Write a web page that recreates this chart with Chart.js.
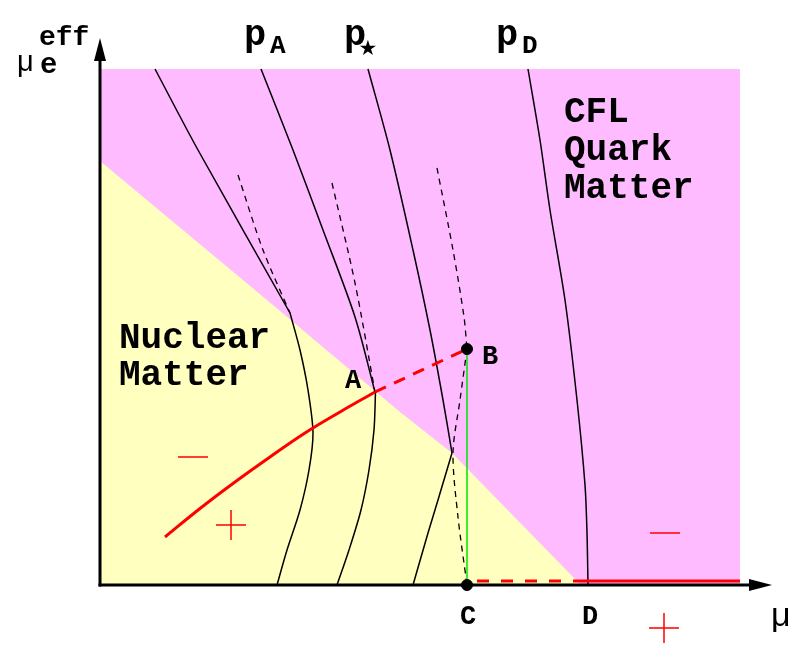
<!DOCTYPE html>
<html><head><meta charset="utf-8">
<script src="https://cdn.jsdelivr.net/npm/chart.js@4.4.0/dist/chart.umd.min.js"></script>
<style>html,body{margin:0;padding:0;background:#fff}#wrap{width:810px;height:664px}</style>
</head><body><div id="wrap"><canvas id="c"></canvas></div>
<script>
// ---- data: (mu, mu_e^eff) in schematic units ----
const cflRegion = [[0.01,5.16],[6.40,5.16]];
const nuclearRegion = [[0,4.24],[1.67,2.85],[3.00,1.73],[3.52,1.32],[4.78,0.03],[4.80,0]];
const pA_quark = [[0.55,5.16],[0.98,4.35],[1.90,2.72]];
const pA_nuclear = [[1.90,2.72],[2.00,2.35],[2.08,1.95],[2.13,1.52],[2.09,1.15],[2.00,0.75],[1.87,0.35],[1.77,0]];
const pA_dashed = [[1.38,4.10],[1.63,3.35],[1.90,2.72]];
const pStar_quark = [[1.61,5.16],[1.93,4.35],[2.23,3.55],[2.55,2.68],[2.75,1.93]];
const pStar_nuclear = [[2.755,1.93],[2.74,1.55],[2.69,1.15],[2.61,0.75],[2.49,0.35],[2.37,0]];
const pStar_dashed = [[2.32,4.02],[2.55,3.02],[2.75,1.93]];
const pB_quark = [[2.68,5.16],[2.90,4.35],[3.13,3.35],[3.30,2.55],[3.43,1.85],[3.52,1.32]];
const pB_nuclear = [[3.52,1.32],[3.38,0.85],[3.28,0.52],[3.13,0]];
const pB_dashedUpper = [[3.37,4.17],[3.53,3.35],[3.64,2.68],[3.67,2.36]];
const pB_dashedLower = [[3.67,2.36],[3.60,1.85],[3.53,1.32],[3.58,0.68],[3.67,0]];
const pD_curve = [[4.28,5.16],[4.40,4.45],[4.50,3.75],[4.65,2.85],[4.77,1.85],[4.85,1.00],[4.87,0.52],[4.88,0]];
const redSolidNuclear = [[0.65,0.48],[1.00,0.765],[1.35,1.03],[1.70,1.28],[2.05,1.52],[2.40,1.73],[2.75,1.93]];
const redDashedAB = [[2.75,1.93],[3.67,2.36]];
const redDashedCD = [[3.77,0.04],[4.78,0.04]];
const redSolidCFL = [[4.78,0.04],[6.40,0.04]];
const greenBC = [[3.67,2.36],[3.67,0]];
const pointsBC = [[3.67,2.36],[3.67,0]];
const minusSigns = [[0.93,1.28],[5.65,0.52]];
const plusSigns = [[1.31,0.60],[5.64,-0.43]];
const axisMuEnd = 6.72;
const axisMuEEnd = 5.47;

// ---- texts ----
const regionTexts = ['Nuclear','Matter','CFL','Quark','Matter'];
const regionTextPos = [[0.19,2.37],[0.19,2.00],[4.64,4.63],[4.64,4.25],[4.64,3.87]];
const pointTexts = ['A','B','C','D'];
const pointTextPos = [[2.45,1.97],[3.82,2.21],[3.60,-0.39],[4.82,-0.39]];
const pressureSubs = ['A','*','D'];
const pressurePos = [[1.44,5.40],[2.44,5.40],[3.96,5.40]];

const P = a => a.map(([x,y]) => ({x,y}));
const line = (data, color, width, extra={}) => Object.assign({
  data: P(data), showLine:true, borderColor:color, borderWidth:width,
  pointRadius:0, fill:false, tension:0.3, clip:false
}, extra);

const BLACK='#000', RED='#ff0000';
const dash = {borderDash:[6,5]};

const datasets = [
  {data:P(pointsBC), showLine:false, pointRadius:5.5, pointBackgroundColor:'#000', pointBorderColor:'#000'},
  {data:P(minusSigns), showLine:false, pointStyle:'line', pointRadius:15, pointBorderColor:RED, pointBorderWidth:1.5},
  {data:P(plusSigns), showLine:false, pointStyle:'cross', pointRadius:15, pointBorderColor:RED, pointBorderWidth:1.5},
  line(greenBC, '#00e600', 1.5, {tension:0}),
  line(redSolidNuclear, RED, 3, {tension:0.4}),
  line(redDashedAB, RED, 3, {borderDash:[12,9], tension:0}),
  line(redDashedCD, RED, 3, {borderDash:[12,12], tension:0}),
  line(redSolidCFL, RED, 3, {tension:0}),
  line(pA_quark, BLACK, 1.5),
  line(pA_nuclear, BLACK, 1.5),
  line(pA_dashed, BLACK, 1.3, dash),
  line(pStar_quark, BLACK, 1.5),
  line(pStar_nuclear, BLACK, 1.5),
  line(pStar_dashed, BLACK, 1.3, dash),
  line(pB_quark, BLACK, 1.5),
  line(pB_nuclear, BLACK, 1.5, {tension:0.15}),
  line(pB_dashedUpper, BLACK, 1.3, dash),
  line(pB_dashedLower, BLACK, 1.3, dash),
  line(pD_curve, BLACK, 1.5),
  line(nuclearRegion, 'rgba(0,0,0,0)', 0, {fill:'origin', backgroundColor:'#ffffc0', tension:0}),
  line(cflRegion, 'rgba(0,0,0,0)', 0, {fill:'origin', backgroundColor:'#ffbbff', tension:0})
];

const MONO = '"Courier New","Liberation Mono",monospace';
const SANS = '"Liberation Sans",Arial,sans-serif';

const overlay = {
  id:'overlay',
  afterDatasetsDraw(chart){
    const {ctx, scales:{x, y}} = chart;
    const X = v => x.getPixelForValue(v), Y = v => y.getPixelForValue(v);
    ctx.save();
    ctx.strokeStyle = '#000'; ctx.fillStyle = '#000'; ctx.lineWidth = 3;
    const ox = X(0), oy = Y(0), tx = X(axisMuEnd), ty = Y(axisMuEEnd);
    ctx.beginPath(); ctx.moveTo(ox-1.5, oy); ctx.lineTo(tx-18, oy); ctx.stroke();
    ctx.beginPath(); ctx.moveTo(ox, oy+1.5); ctx.lineTo(ox, ty+18); ctx.stroke();
    ctx.beginPath(); ctx.moveTo(tx, oy); ctx.lineTo(tx-23, oy-6); ctx.lineTo(tx-23, oy+6); ctx.closePath(); ctx.fill();
    ctx.beginPath(); ctx.moveTo(ox, ty); ctx.lineTo(ox-6, ty+23); ctx.lineTo(ox+6, ty+23); ctx.closePath(); ctx.fill();

    ctx.textBaseline = 'alphabetic'; ctx.textAlign = 'left';
    ctx.font = 'bold 36px ' + MONO;
    regionTexts.forEach((t,i) => ctx.fillText(t, X(regionTextPos[i][0]), Y(regionTextPos[i][1])));
    ctx.font = 'bold 27px ' + MONO;
    pointTexts.forEach((t,i) => ctx.fillText(t, X(pointTextPos[i][0]), Y(pointTextPos[i][1])));
    pressurePos.forEach(([px,py],i) => {
      ctx.font = 'bold 37px ' + MONO;
      const bx = X(px), by = Y(py);
      ctx.fillText('p', bx, by);
      if (pressureSubs[i] === '*') {
        ctx.font = '21px "DejaVu Sans",sans-serif';
        ctx.textAlign = 'center'; ctx.textBaseline = 'middle';
        ctx.fillText('\u2605', bx + 24, by + 5);
        ctx.textAlign = 'left'; ctx.textBaseline = 'alphabetic';
      } else {
        ctx.font = 'bold 26px ' + MONO;
        ctx.fillText(pressureSubs[i], bx + 26, by + 8);
      }
    });
    ctx.font = '34px ' + SANS;
    ctx.fillText('\u03bc', X(6.71), Y(-0.41));
    ctx.font = '29px ' + SANS;
    ctx.fillText('\u03bc', X(-0.83), Y(5.14));
    ctx.font = 'bold 29px ' + MONO;
    ctx.fillText('e', X(-0.60), Y(5.12));
    ctx.font = 'bold 28px ' + MONO;
    ctx.fillText('eff', X(-0.61), Y(5.40));
    ctx.restore();
  }
};

new Chart(document.getElementById('c'), {
  type:'scatter',
  data:{datasets},
  options:{
    responsive:true, maintainAspectRatio:false, animation:false,
    layout:{padding:0, autoPadding:false},
    plugins:{legend:{display:false}, tooltip:{enabled:false}},
    scales:{
      x:{type:'linear', min:-1.00, max:7.10, display:false},
      y:{type:'linear', min:-0.79, max:5.85, display:false}
    }
  },
  plugins:[overlay]
});
</script>
</body></html>
